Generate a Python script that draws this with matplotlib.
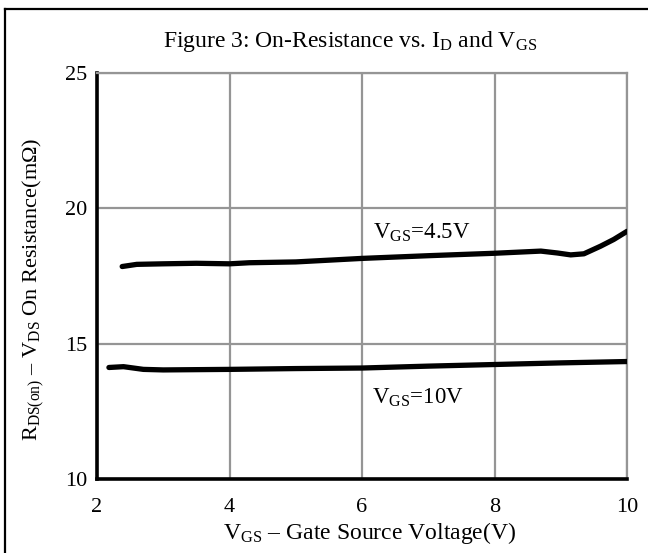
import matplotlib
matplotlib.use("Agg")
import matplotlib.pyplot as plt
from matplotlib.lines import Line2D

# ---------------------------------------------------------------------------
# Data
# ---------------------------------------------------------------------------
vgs_45 = [2.38, 2.6, 3.0, 3.5, 4.0, 4.3, 5.0, 6.0, 7.0, 8.0, 8.7, 8.95, 9.15, 9.35, 9.6, 9.8, 10.0]
rds_45 = [17.85, 17.93, 17.95, 17.97, 17.95, 17.99, 18.02, 18.15, 18.25, 18.34, 18.42, 18.35,
          18.28, 18.32, 18.6, 18.85, 19.15]

vgs_10 = [2.18, 2.4, 2.7, 3.0, 4.0, 5.0, 6.0, 7.0, 8.0, 9.0, 10.0]
rds_10 = [14.12, 14.15, 14.05, 14.03, 14.05, 14.08, 14.1, 14.17, 14.23, 14.29, 14.34]

x_ticks = [2, 4, 6, 8, 10]
y_ticks = [10, 15, 20, 25]

plt.rcParams["font.family"] = ["Liberation Serif", "DejaVu Serif"]
plt.rcParams["mathtext.fontset"] = "custom"
plt.rcParams["mathtext.rm"] = "Liberation Serif"
plt.rcParams["mathtext.it"] = "Liberation Serif:italic"

W, H = 648, 553
fig = plt.figure(figsize=(W / 100, H / 100), dpi=100)
ax = fig.add_axes([97 / W, 1 - 479 / H, (627 - 97) / W, (479 - 73) / H])

grey = "#959595"
ax.plot(vgs_45, rds_45, color="black", lw=3.8, solid_capstyle="round", zorder=3)
ax.plot(vgs_10, rds_10, color="black", lw=3.8, solid_capstyle="round", zorder=3)

ax.set_xlim(2, 10)
ax.set_ylim(10, 25)
ax.set_xticks(x_ticks)
ax.set_yticks(y_ticks)
ax.tick_params(length=0, labelsize=16)
ax.tick_params(axis="x", pad=14)
ax.tick_params(axis="y", pad=7)
ax.grid(True, color=grey, lw=1.6)

for side in ("top", "right"):
    ax.spines[side].set_color(grey)
    ax.spines[side].set_linewidth(1.6)
for side in ("left", "bottom"):
    ax.spines[side].set_color("black")
    ax.spines[side].set_linewidth(2.6)

ax.text(6.17, 19.1, r"V$_{\mathrm{GS}}$=4.5V", fontsize=16.5, va="center", ha="left")
ax.text(6.15, 13.0, r"V$_{\mathrm{GS}}$=10V", fontsize=16.5, va="center", ha="left")

fig.text(350 / W, 1 - 42 / H, r"Figure 3: On-Resistance vs. I$_{\mathrm{D}}$ and V$_{\mathrm{GS}}$",
         fontsize=17, ha="center", va="center")
fig.text(370 / W, 1 - 533 / H, r"V$_{\mathrm{GS}}$ – Gate Source Voltage(V)",
         fontsize=17, ha="center", va="center")
fig.text(33 / W, 1 - 289 / H, r"R$_{\mathrm{DS(on)}}$ – V$_{\mathrm{DS}}$ On Resistance(mΩ)",
         fontsize=16, ha="center", va="center", rotation=90)

# outer frame (only left and top edges fall inside the picture)
fig.add_artist(Line2D([5 / W, 5 / W], [0, 1 - 9 / H], color="black", lw=1.6))
fig.add_artist(Line2D([5 / W, 1], [1 - 9 / H, 1 - 9 / H], color="black", lw=1.6))

fig.savefig("out.png", dpi=100)
